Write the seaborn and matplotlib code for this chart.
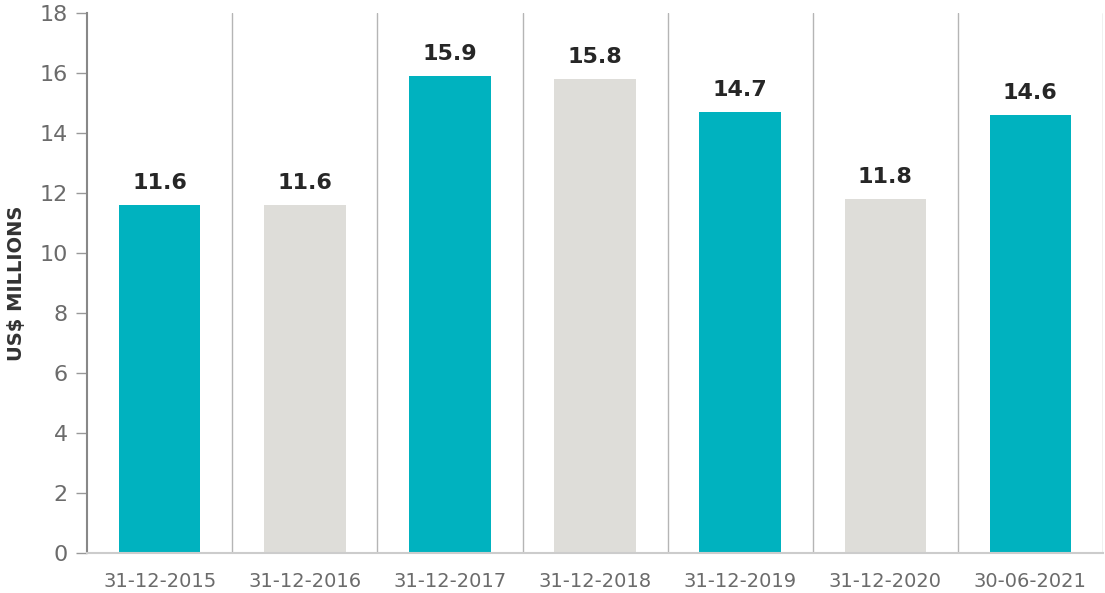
import numpy as np
import pandas as pd
import matplotlib
matplotlib.use("Agg")
import matplotlib.pyplot as plt
import seaborn as sns

# data
dates = ["31-12-2015", "31-12-2016", "31-12-2017", "31-12-2018",
         "31-12-2019", "31-12-2020", "30-06-2021"]
values = [11.6, 11.6, 15.9, 15.8, 14.7, 11.8, 14.6]
value_labels = ["11.6", "11.6", "15.9", "15.8", "14.7", "11.8", "14.6"]
bar_colors = ["#00B2BF", "#DEDDD9", "#00B2BF", "#DEDDD9",
              "#00B2BF", "#DEDDD9", "#00B2BF"]
y_ticks = [0, 2, 4, 6, 8, 10, 12, 14, 16, 18]

sns.set_style("white")
plt.rcParams['font.family'] = ['DejaVu Sans']

df = pd.DataFrame({"date": dates, "value": values})

fig = plt.figure(figsize=(11.05, 5.93), dpi=100)
ax = fig.add_axes([0.079, 0.0675, 0.919, 0.911])

sns.barplot(data=df, x="date", y="value", hue="date",
            palette=dict(zip(dates, bar_colors)), legend=False,
            width=0.56, saturation=1, edgecolor="none", ax=ax)

# separators between categories
for i in range(len(dates)):
    ax.axvline(i + 0.5, ymin=0, ymax=1, color="#b5b5b5", lw=1.0, zorder=0)

# value labels
for i, (v, lab) in enumerate(zip(values, value_labels)):
    ax.text(i, v + 0.4, lab, ha="center", va="bottom",
            fontsize=16, fontweight="bold", color="#262626")

ax.set_xlim(-0.5, len(dates) - 0.5)
ax.set_ylim(0, 18)
ax.set_yticks(y_ticks)
ax.set_yticklabels([str(t) for t in y_ticks], fontsize=16, color="#6b6b6b")
ax.set_xticks(range(len(dates)))
ax.set_xticklabels(dates, fontsize=14, color="#6b6b6b")
ax.tick_params(axis="y", length=8, width=1, color="#999999", pad=6, left=True)
ax.tick_params(axis="x", length=0, pad=14)

ax.set_xlabel("")
ax.set_ylabel("US$ MILLIONS", fontsize=14, fontweight="bold", color="#333333",
              labelpad=10)

for side in ["top", "right"]:
    ax.spines[side].set_visible(False)
ax.spines["left"].set_color("#888888")
ax.spines["left"].set_linewidth(1.5)
ax.spines["bottom"].set_color("#cccccc")
ax.spines["bottom"].set_linewidth(1.5)

fig.savefig("out.png", dpi=100)
